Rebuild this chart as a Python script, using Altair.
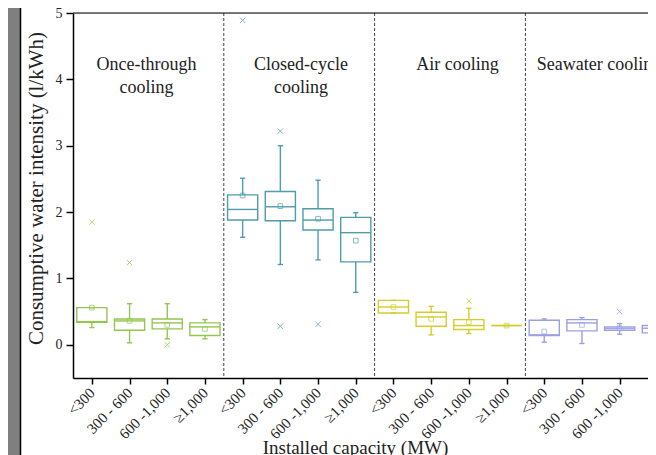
import json
import altair as alt
import pandas as pd

# ---------------- data ----------------
groups = ["Once-through cooling", "Closed-cycle cooling", "Air cooling", "Seawater cooling"]
categories = ["<300", "300 - 600", "600 -1,000", "≥1,000"]
colors = ["#93c650", "#4f9caa", "#d4ce2c", "#9ca0e2"]

q1 = [0.34, 0.22, 0.24, 0.14, 1.88, 1.87, 1.73, 1.25, 0.48, 0.28, 0.23, 0.29, 0.14, 0.21, 0.22, 0.18]
q3 = [0.56, 0.39, 0.39, 0.33, 2.26, 2.31, 2.05, 1.92, 0.67, 0.49, 0.38, 0.29, 0.37, 0.38, 0.27, 0.29]
median = [0.35, 0.36, 0.33, 0.27, 2.04, 2.08, 1.88, 1.69, 0.57, 0.42, 0.29, 0.29, 0.15, 0.33, 0.25, 0.25]
mean = [0.56, 0.36, 0.30, 0.24, 2.25, 2.09, 1.90, 1.57, 0.57, 0.39, 0.34, 0.29, 0.20, 0.30, 0.25, 0.24]
whisker_lo = [0.26, 0.03, 0.09, 0.09, 1.62, 1.21, 1.28, 0.79, 0.48, 0.15, 0.17, 0.29, 0.04, 0.02, 0.16, 0.13]
whisker_hi = [0.56, 0.62, 0.62, 0.38, 2.51, 3.00, 2.48, 1.99, 0.67, 0.58, 0.55, 0.29, 0.39, 0.41, 0.32, 0.37]

outlier_pos = [1, 2, 3, 5, 6, 6, 7, 11, 15]
outlier_val = [1.85, 1.24, 0.00, 4.89, 3.22, 0.28, 0.31, 0.66, 0.50]

title_pos = [2.45, 2.45, 6.55, 6.55, 10.7, 14.45]
title_val = [4.22, 3.87, 4.22, 3.87, 4.22, 4.22]
title_text = ["Once-through", "cooling", "Closed-cycle", "cooling", "Air cooling", "Seawater cooling"]

separators = [4.5, 8.5, 12.5]

# ---------------- layout ----------------
W, H = 575, 365
STEP = 37.7
x_max = 0.5 + W / STEP
FONT = "Liberation Serif"

n = len(q1)
pos = list(range(1, n + 1))
df = pd.DataFrame({
    "pos": pos,
    "group": [groups[i // 4] for i in range(n)],
    "q1": q1, "q3": q3, "median": median, "mean": mean,
    "wlo": whisker_lo, "whi": whisker_hi,
})
out_df = pd.DataFrame({"pos": outlier_pos, "val": outlier_val,
                       "group": [groups[(p - 1) // 4] for p in outlier_pos]})
tit_df = pd.DataFrame({"pos": title_pos, "val": title_val, "text": title_text})
sep_df = pd.DataFrame({"pos": separators})
dummy = pd.DataFrame({"a": [0]})

xs = alt.Scale(domain=[0.5, x_max], nice=False, zero=False)
ys = alt.Scale(domain=[-0.5, 5], nice=False, zero=False)
cs = alt.Scale(domain=groups, range=colors)

xaxis = alt.Axis(
    values=[p for p in pos if p <= x_max],
    labelExpr=f"{json.dumps(categories)}[(datum.value - 1) % 4]",
    labelAngle=-45, labelAlign="right", labelBaseline="middle",
    labelFont=FONT, labelFontSize=15, labelColor="#222", labelPadding=6,
    labelOverlap=False, labelBound=False, labelFlush=False,
    tickSize=6, tickColor="black", tickWidth=1.5,
    domainColor="black", domainWidth=1.5, grid=False,
    title="Installed capacity (MW)", titleFont=FONT, titleFontSize=19,
    titleFontWeight="normal", titleColor="#222",
    titleX=282, titleY=75, titleAlign="center", titleBaseline="alphabetic",
)
yaxis = alt.Axis(
    values=[i * 0.5 for i in range(0, 11)],
    labelExpr="datum.value % 1 === 0 ? format(datum.value, 'd') : ''",
    labelFont=FONT, labelFontSize=14, labelColor="#222", labelPadding=4,
    labelOverlap=False, labelBound=False, labelFlush=False,
    tickSize={"condition": {"test": "datum.value % 1 === 0", "value": 7}, "value": 4},
    tickColor="black", tickWidth=1.5,
    domainColor="black", domainWidth=1.5, grid=False,
    title="Consumptive water intensity (l/kWh)", titleFont=FONT, titleFontSize=21,
    titleFontWeight="normal", titleColor="#222",
    titleAngle=270, titleX=-37, titleY=175, titleAlign="center", titleBaseline="middle",
)

base = alt.Chart(df).transform_calculate(
    lo="datum.pos - 0.4", hi="datum.pos + 0.4",
    clo="datum.pos - 0.07", chi="datum.pos + 0.07",
)
col = alt.Color("group:N", scale=cs, legend=None)

strip = alt.Chart(dummy).mark_rect(color="#7f7f7f").encode(
    x=alt.value(-65), x2=alt.value(-53), y=alt.value(-5), y2=alt.value(442))
strip_line = alt.Chart(dummy).mark_rule(color="black", strokeWidth=1.5).encode(
    x=alt.value(-52.5), y=alt.value(-5), y2=alt.value(442))
top_line = alt.Chart(dummy).mark_rule(color="black", strokeWidth=1.2).encode(
    x=alt.value(0), x2=alt.value(W), y=alt.value(0))

seps = alt.Chart(sep_df).mark_rule(color="#444", strokeDash=[3, 2], strokeWidth=1).encode(
    x=alt.X("pos:Q", scale=xs, axis=xaxis), y=alt.value(0), y2=alt.value(H))

boxes = base.mark_rect(filled=False, strokeWidth=1.4, clip=True).encode(
    x=alt.X("lo:Q", scale=xs, axis=xaxis), x2="hi:Q",
    y=alt.Y("q1:Q", scale=ys, axis=yaxis), y2="q3:Q", color=col)
medians = base.mark_rule(strokeWidth=1.4, clip=True).encode(
    x=alt.X("lo:Q", scale=xs), x2="hi:Q", y=alt.Y("median:Q", scale=ys), color=col)
wl = base.mark_rule(strokeWidth=1.4, clip=True).encode(
    x=alt.X("pos:Q", scale=xs), y=alt.Y("wlo:Q", scale=ys), y2="q1:Q", color=col)
wh = base.mark_rule(strokeWidth=1.4, clip=True).encode(
    x=alt.X("pos:Q", scale=xs), y=alt.Y("q3:Q", scale=ys), y2="whi:Q", color=col)
cl = base.mark_rule(strokeWidth=1.4, clip=True).encode(
    x=alt.X("clo:Q", scale=xs), x2="chi:Q", y=alt.Y("wlo:Q", scale=ys), color=col)
ch = base.mark_rule(strokeWidth=1.4, clip=True).encode(
    x=alt.X("clo:Q", scale=xs), x2="chi:Q", y=alt.Y("whi:Q", scale=ys), color=col)
means = base.mark_point(shape="square", size=22, filled=False, strokeWidth=1, clip=True).encode(
    x=alt.X("pos:Q", scale=xs), y=alt.Y("mean:Q", scale=ys), color=col)
outliers = alt.Chart(out_df).mark_point(
    shape="M-1,-1L1,1M-1,1L1,-1", size=30, filled=False, strokeWidth=1, opacity=0.75, clip=True
).encode(x=alt.X("pos:Q", scale=xs), y=alt.Y("val:Q", scale=ys), color=col)
titles = alt.Chart(tit_df).mark_text(font=FONT, fontSize=18, color="#222", baseline="middle").encode(
    x=alt.X("pos:Q", scale=xs), y=alt.Y("val:Q", scale=ys), text="text:N")

chart = alt.layer(
    strip, strip_line, seps, top_line, boxes, medians, wl, wh, cl, ch, means, outliers, titles
).properties(
    width=W, height=H,
    autosize=alt.AutoSizeParams(type="none"),
    padding={"left": 65, "top": 5, "right": 0, "bottom": 77},
).configure_view(stroke=None).configure(background="white")

chart.save("out.html", embed_options={"renderer": "svg", "actions": False})
